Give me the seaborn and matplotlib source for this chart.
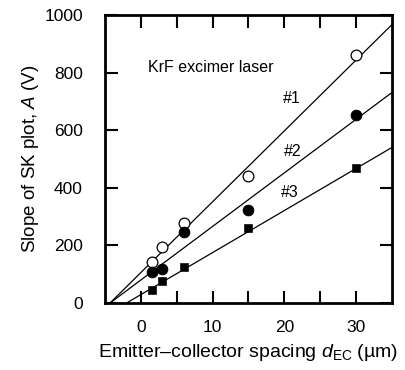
import numpy as np
import pandas as pd
import matplotlib
matplotlib.use("Agg")
import matplotlib.pyplot as plt
import seaborn as sns

# ---- data ----
spacing = [1.5, 3.0, 6.0, 15.0, 30.0]
series1 = [143, 193, 278, 442, 862]
series2 = [109, 117, 245, 324, 652]
series3 = [46, 78, 126, 259, 468]
series_names = ["#1", "#2", "#3"]
# fitted lines: x-intercept and slope (V/um)
fit_x0 = [-4.3, -4.3, -2.0]
fit_slope = [24.6, 18.6, 14.6]
x_ticks = [0, 10, 20, 30]
y_ticks = [0, 200, 400, 600, 800, 1000]

sns.set_theme(style="ticks")
plt.rcParams["font.family"] = ["Liberation Sans", "DejaVu Sans"]
plt.rcParams["mathtext.fontset"] = "custom"
plt.rcParams["mathtext.rm"] = "Liberation Sans"
plt.rcParams["mathtext.it"] = "Liberation Sans:italic"
plt.rcParams["text.color"] = "black"
plt.rcParams["axes.labelcolor"] = "black"
plt.rcParams["xtick.color"] = "black"
plt.rcParams["ytick.color"] = "black"

fig = plt.figure(figsize=(4.06, 3.70), dpi=100)
ax = fig.add_axes([0.2586, 0.181, 0.7069, 0.7785])

xmin, xmax = -5, 35
for x0, k in zip(fit_x0, fit_slope):
    xs = np.array([x0, xmax])
    line_df = pd.DataFrame({"x": xs, "y": k * (xs - x0)})
    sns.lineplot(data=line_df, x="x", y="y", ax=ax, color="black", lw=0.9)

df1 = pd.DataFrame({"x": spacing, "y": series1})
df2 = pd.DataFrame({"x": spacing, "y": series2})
df3 = pd.DataFrame({"x": spacing, "y": series3})
sns.scatterplot(data=df1, x="x", y="y", ax=ax, marker="o", s=60,
                facecolor="white", edgecolor="black", linewidth=0.9, zorder=5)
sns.scatterplot(data=df2, x="x", y="y", ax=ax, marker="o", s=60,
                color="black", edgecolor="black", zorder=5)
sns.scatterplot(data=df3, x="x", y="y", ax=ax, marker="s", s=32,
                color="black", edgecolor="black", zorder=5)

label_pos = [(21.1, 711), (21.1, 525), (20.7, 384)]
for name, (lx, ly) in zip(series_names, label_pos):
    ax.text(lx, ly, name, fontsize=11.5, ha="center", va="center")
ax.text(9.8, 819, "KrF excimer laser", fontsize=11.5, ha="center", va="center")

ax.set_xlim(xmin, xmax)
ax.set_ylim(0, 1000)
ax.set_xticks(x_ticks)
ax.set_xticks(np.arange(0, 35, 5), minor=True)
ax.set_yticks(y_ticks)
ax.tick_params(which="both", direction="in", top=True, right=True,
               length=9, width=1.5, labelsize=12.5, color="black")
ax.tick_params(axis="x", which="both", pad=12)
ax.tick_params(axis="y", which="both", pad=16)
for sp in ax.spines.values():
    sp.set_linewidth(2)
    sp.set_color("black")
ax.set_xlabel("Emitter\u2013collector spacing $d_{\\mathrm{EC}}$ (\u00b5m)", fontsize=14, labelpad=5)
ax.set_ylabel("Slope of SK plot, $A$ (V)", fontsize=13.5, labelpad=2)

fig.savefig("out.png", dpi=100)
